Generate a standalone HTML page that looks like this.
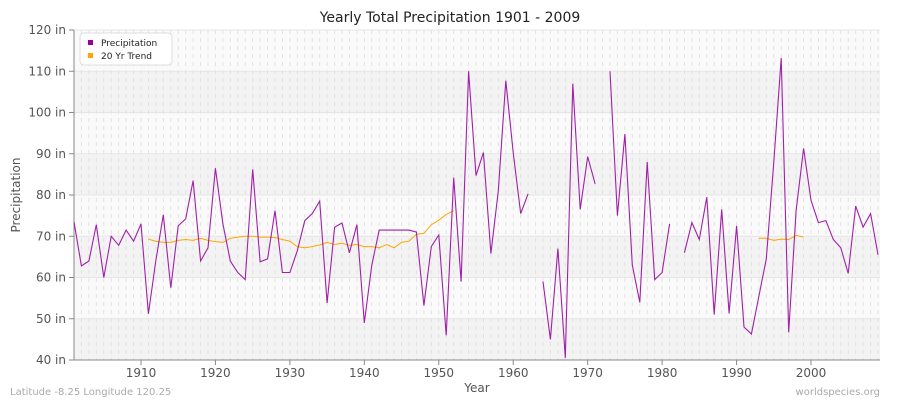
<!DOCTYPE html>
<html><head><meta charset="utf-8"><style>
body{margin:0;background:#fff;font-family:"Liberation Sans","DejaVu Sans",sans-serif}
svg text{font-family:"DejaVu Sans","Liberation Sans",sans-serif}
</style></head><body>
<svg id="chart" width="900" height="400" xmlns="http://www.w3.org/2000/svg">
<rect width="900" height="400" fill="#fff"/>
<text x="450" y="22" text-anchor="middle" font-size="14" fill="#222">Yearly Total Precipitation 1901 - 2009</text>
<g id="bands"></g><g id="grid"></g>
<line x1="74" y1="30" x2="74" y2="360" stroke="#888"/>
<line x1="74" y1="360" x2="880" y2="360" stroke="#888"/>
<g id="yticks"></g><g id="xticks"></g>
<g id="series"></g>
<text x="20" y="195" transform="rotate(-90 20 195)" text-anchor="middle" font-size="12" fill="#555">Precipitation</text>
<text x="477" y="392" text-anchor="middle" font-size="12" fill="#555">Year</text>
<text x="10" y="395" font-size="10" fill="#aaa">Latitude -8.25 Longitude 120.25</text>
<text x="880" y="395" text-anchor="end" font-size="10" fill="#aaa">worldspecies.org</text>
<g>
<rect x="80" y="33" width="92" height="32" rx="4" fill="#fff" stroke="#ddd"/>
<rect x="88" y="40" width="5" height="5" fill="#990099"/>
<text x="101" y="46" font-size="9" fill="#222">Precipitation</text>
<rect x="88" y="53" width="5" height="5" fill="#ffa500"/>
<text x="101" y="59" font-size="9" fill="#222">20 Yr Trend</text>
</g>
</svg>
<script>
const startYear = 1901;
const precipitation = [73.5,62.8,64,72.8,60,70,67.8,71.5,68.8,73,51.2,64.2,75.2,57.5,72.5,74.2,83.5,64,67.2,86.5,73,64,61.2,59.5,86.2,63.8,64.5,76.2,61.2,61.2,66.5,73.8,75.5,78.5,53.8,72.2,73.2,66,72.8,49,63,71.5,71.5,71.5,71.5,71.5,71,53.2,67.5,70.3,46,84.2,59,110,84.7,90.3,65.8,81,107.7,90.3,75.5,80.3,null,59,45,67,40.5,107,76.5,89.3,82.7,null,110,75,94.8,63,54,88,59.5,61.2,73,null,66,73.3,69.2,79.5,51,76.5,51.3,72.5,48,46.3,55.5,64.5,88,113.2,46.7,76.2,91.3,78.7,73.3,73.8,69.2,67.2,61,77.3,72.2,75.5,65.5];
const trendStart1 = 1911;
const trend1 = [69.3,68.8,68.5,68.5,69,69.2,69,69.5,69,68.7,68.5,69.5,69.8,70,70,69.8,69.8,69.7,69.2,68.8,67.5,67.2,67.5,67.9,68.5,68,68.3,67.8,68,67.5,67.5,67.2,68,67.2,68.5,68.8,70.5,70.7,72.8,73.9,75.3,76.2];
const trendStart2 = 1993;
const trend2 = [69.5,69.5,69,69.3,69.2,70.2,69.8];
const yTicks = [40,50,60,70,80,90,100,110,120];
const xTicks = [1910,1920,1930,1940,1950,1960,1970,1980,1990,2000];

const NS="http://www.w3.org/2000/svg";
const X = yr => 74 + (yr-1901)*(670/90);
const Y = v => 360 - (v-40)*(330/80);
function mk(tag, attrs, parent){const e=document.createElementNS(NS,tag);for(const k in attrs)e.setAttribute(k,attrs[k]);document.getElementById(parent).appendChild(e);return e;}

for(let i=0;i<yTicks.length-1;i++){
  const r=mk('rect',{x:74,y:Y(yTicks[i+1]),width:806,height:Y(yTicks[i])-Y(yTicks[i+1]),fill:i%2===0?'#f3f3f3':'#fafafa'},'bands');
  
  
}
for(let yr=1901;yr<=2009;yr++){
  const l=mk('line',{x1:X(yr),y1:30,x2:X(yr),y2:360,stroke:'#e2e2e2','stroke-dasharray':'4,4'},'grid');
  
  
}
yTicks.forEach(v=>{
  const l=mk('line',{x1:74,y1:Y(v),x2:880,y2:Y(v),stroke:'#e6e6e6'},'grid');
  
  
  const tk=mk('line',{x1:69,y1:Y(v),x2:74,y2:Y(v),stroke:'#888'},'yticks');
  
  
  const t=mk('text',{x:66,y:Y(v)+4,'text-anchor':'end','font-size':12,fill:'#555'},'yticks');
  t.textContent=v+' in';
  
  
});
xTicks.forEach(yr=>{
  const tk=mk('line',{x1:X(yr),y1:360,x2:X(yr),y2:365,stroke:'#888'},'xticks');
  
  
  const t=mk('text',{x:X(yr),y:377,'text-anchor':'middle','font-size':12,fill:'#555'},'xticks');
  t.textContent=yr;
  
  
});
function drawLine(vals,start,color,name,w){
  let seg=[];
  const flush=()=>{if(seg.length>1){const p=mk('polyline',{points:seg.join(' '),fill:'none',stroke:color,'stroke-width':w},'series');
    
    }seg=[];};
  vals.forEach((v,i)=>{if(v==null){flush();}else seg.push(X(start+i).toFixed(1)+','+Y(v).toFixed(1));});
  flush();
}
drawLine(trend1,trendStart1,'#ffa500','trend-line',1);
drawLine(trend2,trendStart2,'#ffa500','trend-line',1);
drawLine(precipitation,startYear,'#a020a8','precipitation-line',1.1);
</script>
</body></html>
